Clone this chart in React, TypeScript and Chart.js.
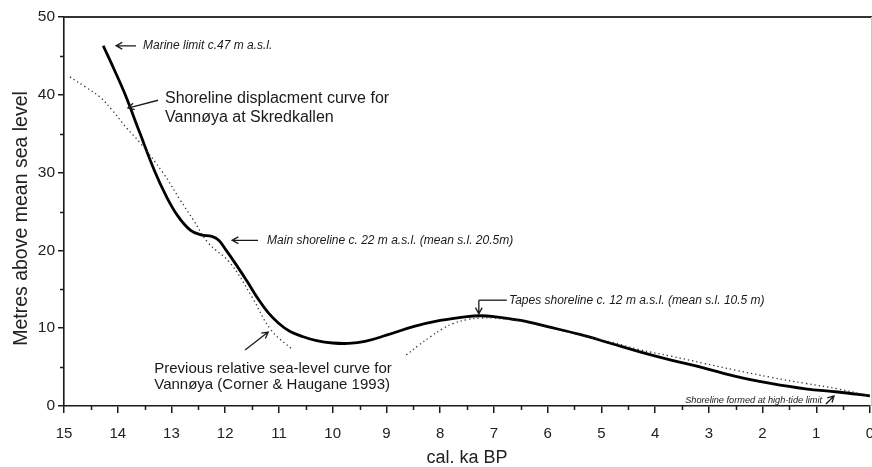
import { useEffect, useRef } from "react";
import { Chart, registerables } from "chart.js";

Chart.register(...registerables);

// ---- Data ----
const xTickValues = [0, 1, 2, 3, 4, 5, 6, 7, 8, 9, 10, 11, 12, 13, 14, 15];
const yTickValues = [0, 10, 20, 30, 40, 50];
const xMinorTicks = [0.5, 1.5, 2.5, 3.5, 4.5, 5.5, 6.5, 7.5, 8.5, 9.5, 10.5, 11.5, 12.5, 13.5, 14.5];
const yMinorTicks = [5, 15, 25, 35, 45];

// Shoreline displacement curve for Vannøya at Skredkallen (solid)
const shorelineAges = [14.27, 14.05, 13.86, 13.6, 13.32, 13.1, 12.88, 12.65, 12.45, 12.25, 12.12, 11.98, 11.8, 11.59, 11.4, 11.2, 11.0, 10.8, 10.55, 10.3, 10.0, 9.7, 9.4, 9.0, 8.5, 8.0, 7.5, 7.25, 7.0, 6.5, 6.0, 5.4, 4.8, 4.3, 3.7, 3.1, 2.5, 1.85, 1.2, 0.6, 0];
const shorelineLevels = [46.3, 43.0, 40.0, 35.3, 30.3, 27.0, 24.4, 22.6, 22.0, 21.8, 21.3, 20.0, 18.2, 16.0, 13.9, 12.0, 10.6, 9.6, 8.9, 8.4, 8.1, 8.05, 8.3, 9.1, 10.2, 11.0, 11.5, 11.6, 11.5, 11.0, 10.2, 9.2, 8.0, 7.0, 5.9, 4.9, 3.8, 2.9, 2.2, 1.8, 1.3];

// Previous relative sea-level curve (Corner & Haugane 1993), dotted, two segments
const previousAgesEarly = [14.89, 14.6, 14.33, 14.1, 13.83, 13.58, 13.16, 12.84, 12.6, 12.32, 11.91, 11.5, 11.15, 10.74];
const previousLevelsEarly = [42.3, 41.0, 39.7, 38.0, 35.7, 33.8, 30.0, 26.5, 24.0, 21.0, 18.4, 14.0, 9.8, 7.2];
const previousAgesLate = [8.63, 8.4, 8.18, 7.96, 7.76, 7.5, 7.25, 7.0, 6.5, 6.0, 5.4, 4.8, 4.33, 3.7, 3.1, 2.5, 1.85, 1.2, 0.6, 0];
const previousLevelsLate = [6.55, 7.8, 8.9, 9.9, 10.6, 11.1, 11.3, 11.3, 10.9, 10.1, 9.1, 8.2, 7.3, 6.4, 5.5, 4.6, 3.7, 2.9, 2.2, 1.3];

// ---- Annotations (data units: [age, metres]) ----
const noteArrows = [
  { from: [13.66, 46.3], to: [14.03, 46.3] },
  { from: [13.25, 39.3], to: [13.81, 38.3] },
  { from: [11.39, 21.3], to: [11.87, 21.3] },
  { from: [11.63, 7.2], to: [11.2, 9.5] },
  { from: [0.82, 0.26], to: [0.67, 1.29] },
  { from: [7.28, 13.6], to: [7.28, 11.85] },
];
const noteLines = [{ from: [7.28, 13.6], to: [6.76, 13.6] }];
const italicNotes = [
  { text: "Marine limit c.47 m a.s.l.", at: [13.53, 46.3], size: 12 },
  { text: "Main shoreline c. 22 m a.s.l. (mean s.l. 20.5m)", at: [11.22, 21.3], size: 12 },
  { text: "Tapes shoreline c. 12 m a.s.l. (mean s.l. 10.5 m)", at: [6.72, 13.5], size: 12 },
  { text: "Shoreline formed at high-tide limit", at: [3.44, 0.77], size: 9.2 },
];
const plainNotes = [
  { text: "Shoreline displacment curve for", at: [13.12, 38.9], size: 16 },
  { text: "Vannøya at Skredkallen", at: [13.12, 36.5], size: 16 },
  { text: "Previous relative sea-level curve for", at: [13.32, 4.24], size: 15 },
  { text: "Vannøya (Corner & Haugane 1993)", at: [13.32, 2.19], size: 15 },
];
const yAxisTitle = "Metres above mean sea level";
const yAxisTitleCentre = 24.1; // metres, where the rotated title is centred

const FONT = "'Liberation Sans', Arial, Helvetica, sans-serif";
const INK = "#1a1a1a";

const decorPlugin = {
  id: "decor",
  afterDraw(chart: any) {
    const { ctx, chartArea, scales } = chart;
    const xs = scales.x;
    const ys = scales.y;
    const px = (a: number) => xs.getPixelForValue(a);
    const py = (v: number) => ys.getPixelForValue(v);
    ctx.save();
    // top frame line
    ctx.strokeStyle = "#333";
    ctx.lineWidth = 2;
    ctx.beginPath();
    ctx.moveTo(chartArea.left, chartArea.top);
    ctx.lineTo(chart.width, chartArea.top);
    ctx.stroke();
    // right faint frame line
    ctx.strokeStyle = "#c8c8c8";
    ctx.lineWidth = 1;
    ctx.beginPath();
    ctx.moveTo(chart.width - 0.5, chartArea.top);
    ctx.lineTo(chart.width - 0.5, chartArea.bottom);
    ctx.stroke();
    // minor ticks
    ctx.strokeStyle = INK;
    ctx.lineWidth = 1.5;
    ctx.beginPath();
    yMinorTicks.forEach((v) => {
      const yy = Math.round(py(v)) + 0.5;
      ctx.moveTo(chartArea.left, yy);
      ctx.lineTo(chartArea.left - 4, yy);
    });
    xMinorTicks.forEach((a) => {
      const xx = Math.round(px(a)) + 0.5;
      ctx.moveTo(xx, chartArea.bottom);
      ctx.lineTo(xx, chartArea.bottom + 4);
    });
    ctx.stroke();

    // y axis title
    ctx.save();
    ctx.fillStyle = "#222";
    ctx.font = `19.5px ${FONT}`;
    ctx.textAlign = "center";
    ctx.textBaseline = "alphabetic";
    ctx.translate(27, py(yAxisTitleCentre));
    ctx.rotate(-Math.PI / 2);
    ctx.fillText(yAxisTitle, 0, 0);
    ctx.restore();

    // annotation arrows
    ctx.strokeStyle = INK;
    ctx.lineWidth = 1.3;
    const head = 7;
    noteArrows.forEach(({ from, to }) => {
      const x1 = px(from[0]), y1 = py(from[1]);
      const x2 = px(to[0]), y2 = py(to[1]);
      const ang = Math.atan2(y2 - y1, x2 - x1);
      ctx.beginPath();
      ctx.moveTo(x1, y1);
      ctx.lineTo(x2, y2);
      ctx.moveTo(x2 - head * Math.cos(ang - 0.5), y2 - head * Math.sin(ang - 0.5));
      ctx.lineTo(x2, y2);
      ctx.lineTo(x2 - head * Math.cos(ang + 0.5), y2 - head * Math.sin(ang + 0.5));
      ctx.stroke();
    });
    noteLines.forEach(({ from, to }) => {
      ctx.beginPath();
      ctx.moveTo(px(from[0]), py(from[1]));
      ctx.lineTo(px(to[0]), py(to[1]));
      ctx.stroke();
    });

    ctx.fillStyle = INK;
    ctx.textAlign = "left";
    ctx.textBaseline = "middle";
    italicNotes.forEach((n) => {
      ctx.font = `italic ${n.size}px ${FONT}`;
      ctx.fillText(n.text, px(n.at[0]), py(n.at[1]));
    });
    ctx.textBaseline = "alphabetic";
    plainNotes.forEach((n) => {
      ctx.font = `${n.size}px ${FONT}`;
      ctx.fillText(n.text, px(n.at[0]), py(n.at[1]));
    });
    ctx.restore();
  },
};

export default function App() {
  const ref = useRef<HTMLCanvasElement | null>(null);
  useEffect(() => {
    document.body.style.margin = "0";
    const canvas = ref.current;
    if (!canvas) return;
    const toPts = (xa: number[], ya: number[]) => xa.map((a, i) => ({ x: a, y: ya[i] }));
    const chart = new Chart(canvas, {
      type: "line",
      data: {
        datasets: [
          {
            label: "Previous relative sea-level curve (early)",
            data: toPts(previousAgesEarly, previousLevelsEarly),
            borderColor: "#333",
            borderWidth: 1.3,
            borderDash: [1.3, 3],
            pointRadius: 0,
            tension: 0.4,
            fill: false,
          },
          {
            label: "Previous relative sea-level curve (late)",
            data: toPts(previousAgesLate, previousLevelsLate),
            borderColor: "#333",
            borderWidth: 1.3,
            borderDash: [1.3, 3],
            pointRadius: 0,
            tension: 0.4,
            fill: false,
          },
          {
            label: "Shoreline displacement curve",
            data: toPts(shorelineAges, shorelineLevels),
            borderColor: "#000",
            borderWidth: 2.8,
            pointRadius: 0,
            tension: 0.4,
            fill: false,
          },
        ],
      },
      options: {
        animation: false,
        responsive: false,
        maintainAspectRatio: false,
        parsing: false as any,
        layout: { padding: { top: 17, right: 2, left: 0, bottom: 0 } },
        plugins: { legend: { display: false }, tooltip: { enabled: false } },
        scales: {
          x: {
            type: "linear",
            min: 0,
            max: 15,
            reverse: true,
            afterBuildTicks: (s: any) => {
              s.ticks = xTickValues.map((v) => ({ value: v }));
            },
            afterFit: (s: any) => {
              s.height = 61;
              s.paddingLeft = 0;
              s.paddingRight = 0;
            },
            border: { color: INK, width: 1.6 },
            grid: { drawOnChartArea: false, tickLength: 7, color: INK, lineWidth: 1.5 },
            ticks: {
              autoSkip: false,
              maxRotation: 0,
              padding: 12,
              color: "#222",
              font: { family: FONT, size: 15 },
              callback: (v: any) => String(v),
            },
            title: {
              display: true,
              text: "cal. ka BP",
              color: "#222",
              font: { family: FONT, size: 18, lineHeight: 1 },
              padding: { top: 0, bottom: 0 },
            },
          },
          y: {
            type: "linear",
            min: 0,
            max: 50,
            afterBuildTicks: (s: any) => {
              s.ticks = yTickValues.map((v) => ({ value: v }));
            },
            afterFit: (s: any) => {
              s.width = 64;
              s.paddingTop = 0;
              s.paddingBottom = 0;
            },
            border: { color: INK, width: 1.6 },
            grid: { drawOnChartArea: false, tickLength: 6, color: INK, lineWidth: 1.5 },
            ticks: {
              padding: 3,
              color: "#222",
              font: { family: FONT, size: 15.5 },
              callback: (v: any) => String(v),
            },
            title: { display: false },
          },
        },
      },
      plugins: [decorPlugin],
    });
    return () => chart.destroy();
  }, []);
  return <canvas ref={ref} width={872} height={467} style={{ display: "block" }} />;
}
